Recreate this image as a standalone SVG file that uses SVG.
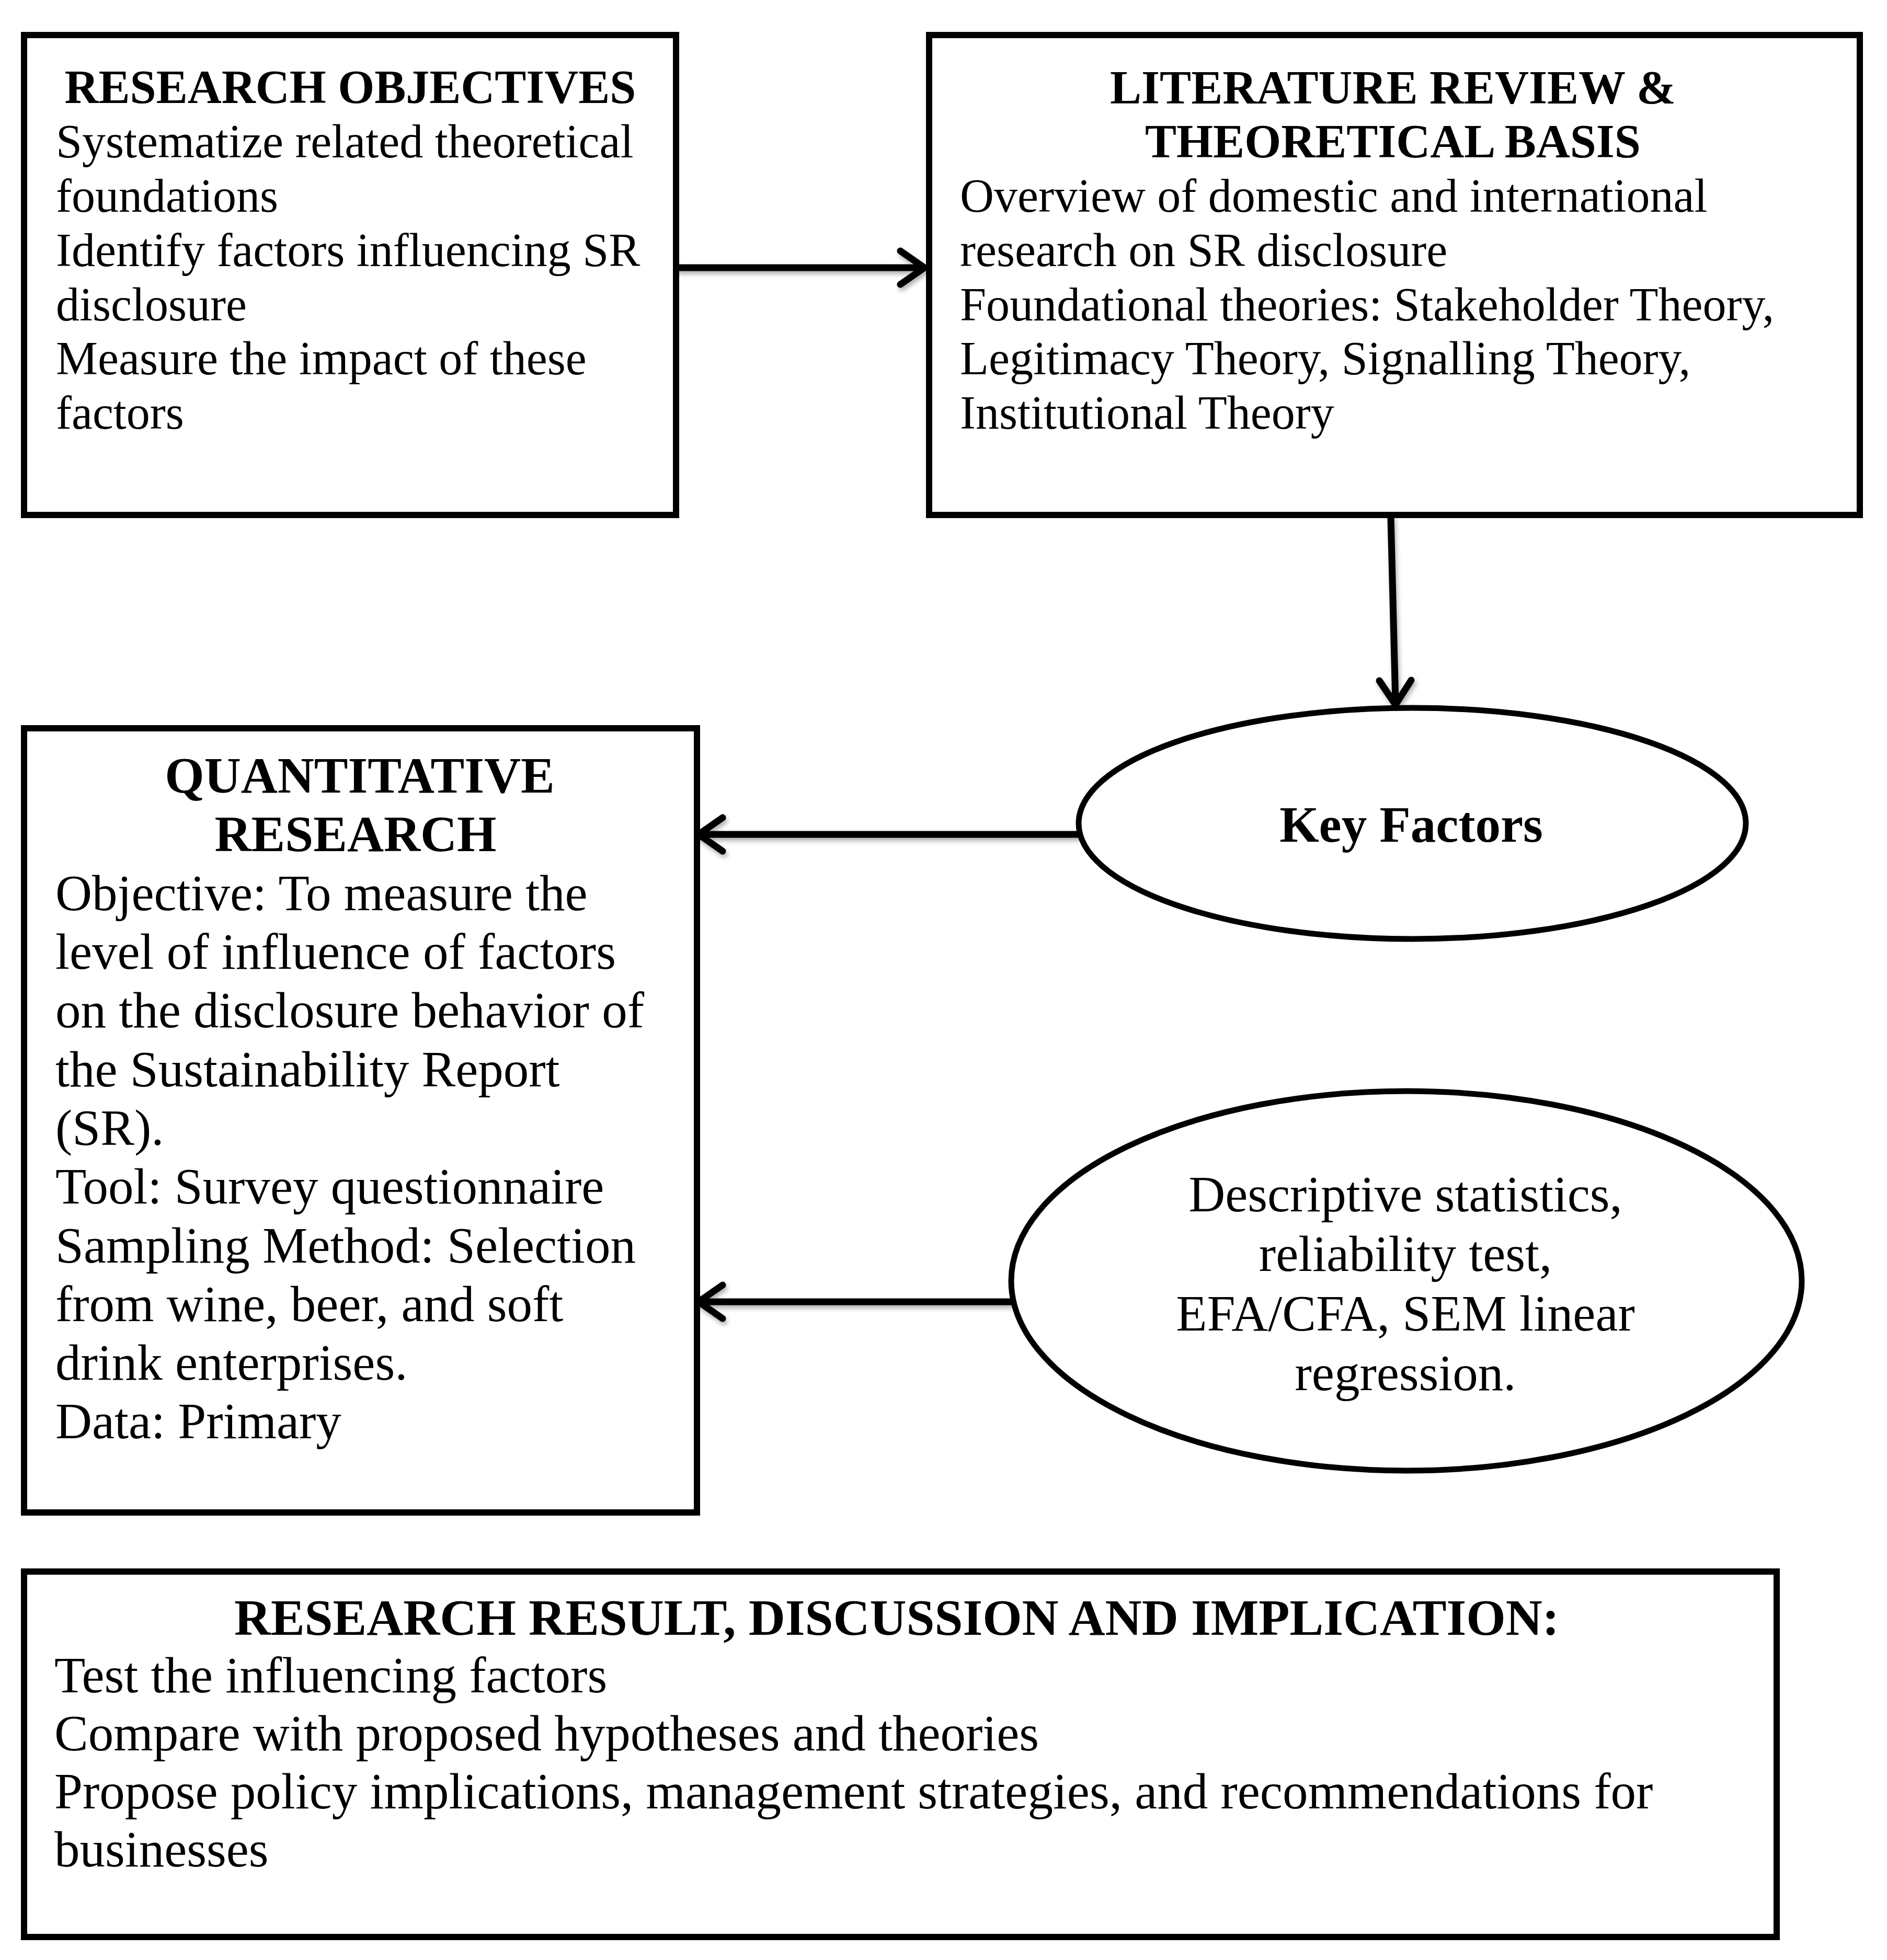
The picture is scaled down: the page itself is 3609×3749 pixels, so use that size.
<svg xmlns="http://www.w3.org/2000/svg" width="3609" height="3749" viewBox="0 0 3609 3749">
<style>
.box{fill:#fff;stroke:#000;stroke-width:12}
.ell{fill:#fff;stroke:#000;stroke-width:11}
.t90{font-family:"Liberation Serif","Times New Roman",serif;font-size:90px;fill:#000}
.t97{font-family:"Liberation Serif","Times New Roman",serif;font-size:97px;fill:#000}
.b{font-weight:bold}
.c{text-anchor:middle}
.conn{fill:none;stroke:#000;stroke-width:13;stroke-linecap:round;stroke-linejoin:round}
</style>
<defs>
<filter id="sh" x="-10%" y="-10%" width="120%" height="120%">
<feDropShadow dx="3" dy="6" stdDeviation="4" flood-color="#000" flood-opacity="0.3"/>
</filter>
</defs>
<rect width="3609" height="3749" fill="#fff"/>

<g id="connectors" filter="url(#sh)">
<g id="c1"><path class="conn" d="M1294 512 L1764 512"/><path class="conn" d="M1722 480 L1768 512 L1722 544"/></g>
<g id="c2"><path class="conn" d="M2660 990 L2669 1344"/><path class="conn" d="M2638 1302 L2669 1348 L2699 1301"/></g>
<g id="c3"><path class="conn" d="M2063 1596 L1340 1596"/><path class="conn" d="M1382 1564 L1336 1596 L1382 1628"/></g>
<g id="c4"><path class="conn" d="M1933 2490 L1340 2490"/><path class="conn" d="M1382 2458 L1336 2490 L1382 2522"/></g>
</g>

<g id="research-objectives">
<rect class="box" x="46" y="67" width="1247" height="918"/>
<text class="t90 b c" x="670" y="197">RESEARCH OBJECTIVES</text>
<text class="t90" x="107" y="301">Systematize related theoretical</text>
<text class="t90" x="107" y="405">foundations</text>
<text class="t90" x="107" y="509">Identify factors influencing SR</text>
<text class="t90" x="107" y="613">disclosure</text>
<text class="t90" x="107" y="716">Measure the impact of these</text>
<text class="t90" x="107" y="820">factors</text>
</g>

<g id="literature-review">
<rect class="box" x="1777" y="67" width="1780" height="918"/>
<text class="t90 b c" x="2664" y="198">LITERATURE REVIEW &amp;</text>
<text class="t90 b c" x="2664" y="301">THEORETICAL BASIS</text>
<text class="t90" x="1836" y="405">Overview of domestic and international</text>
<text class="t90" x="1836" y="509">research on SR disclosure</text>
<text class="t90" x="1836" y="613">Foundational theories: Stakeholder Theory,</text>
<text class="t90" x="1836" y="716">Legitimacy Theory, Signalling Theory,</text>
<text class="t90" x="1836" y="820">Institutional Theory</text>
</g>

<g id="key-factors">
<ellipse class="ell" cx="2701" cy="1575" rx="638" ry="221"/>
<text class="t97 b c" x="2699" y="1610">Key Factors</text>
</g>

<g id="quantitative-research">
<rect class="box" x="46" y="1393" width="1287" height="1500"/>
<text class="t97 b c" x="688" y="1516">QUANTITATIVE</text>
<text class="t97 b c" x="680" y="1628">RESEARCH</text>
<text class="t97" x="106" y="1741">Objective: To measure the</text>
<text class="t97" x="106" y="1853">level of influence of factors</text>
<text class="t97" x="106" y="1965">on the disclosure behavior of</text>
<text class="t97" x="106" y="2078">the Sustainability Report</text>
<text class="t97" x="106" y="2190">(SR).</text>
<text class="t97" x="106" y="2302">Tool: Survey questionnaire</text>
<text class="t97" x="106" y="2415">Sampling Method: Selection</text>
<text class="t97" x="106" y="2527">from wine, beer, and soft</text>
<text class="t97" x="106" y="2639">drink enterprises.</text>
<text class="t97" x="106" y="2751">Data: Primary</text>
</g>

<g id="methods">
<ellipse class="ell" cx="2690" cy="2450" rx="756" ry="363"/>
<text class="t97 c" x="2688" y="2317">Descriptive statistics,</text>
<text class="t97 c" x="2688" y="2431">reliability test,</text>
<text class="t97 c" x="2688" y="2545">EFA/CFA, SEM linear</text>
<text class="t97 c" x="2688" y="2659">regression.</text>
</g>

<g id="research-result">
<rect class="box" x="46" y="3006" width="3352" height="699"/>
<text class="t97 b c" x="1715" y="3127">RESEARCH RESULT, DISCUSSION AND IMPLICATION:</text>
<text class="t97" x="104" y="3237">Test the influencing factors</text>
<text class="t97" x="104" y="3348">Compare with proposed hypotheses and theories</text>
<text class="t97" x="104" y="3459">Propose policy implications, management strategies, and recommendations for</text>
<text class="t97" x="104" y="3570">businesses</text>
</g>
</svg>
